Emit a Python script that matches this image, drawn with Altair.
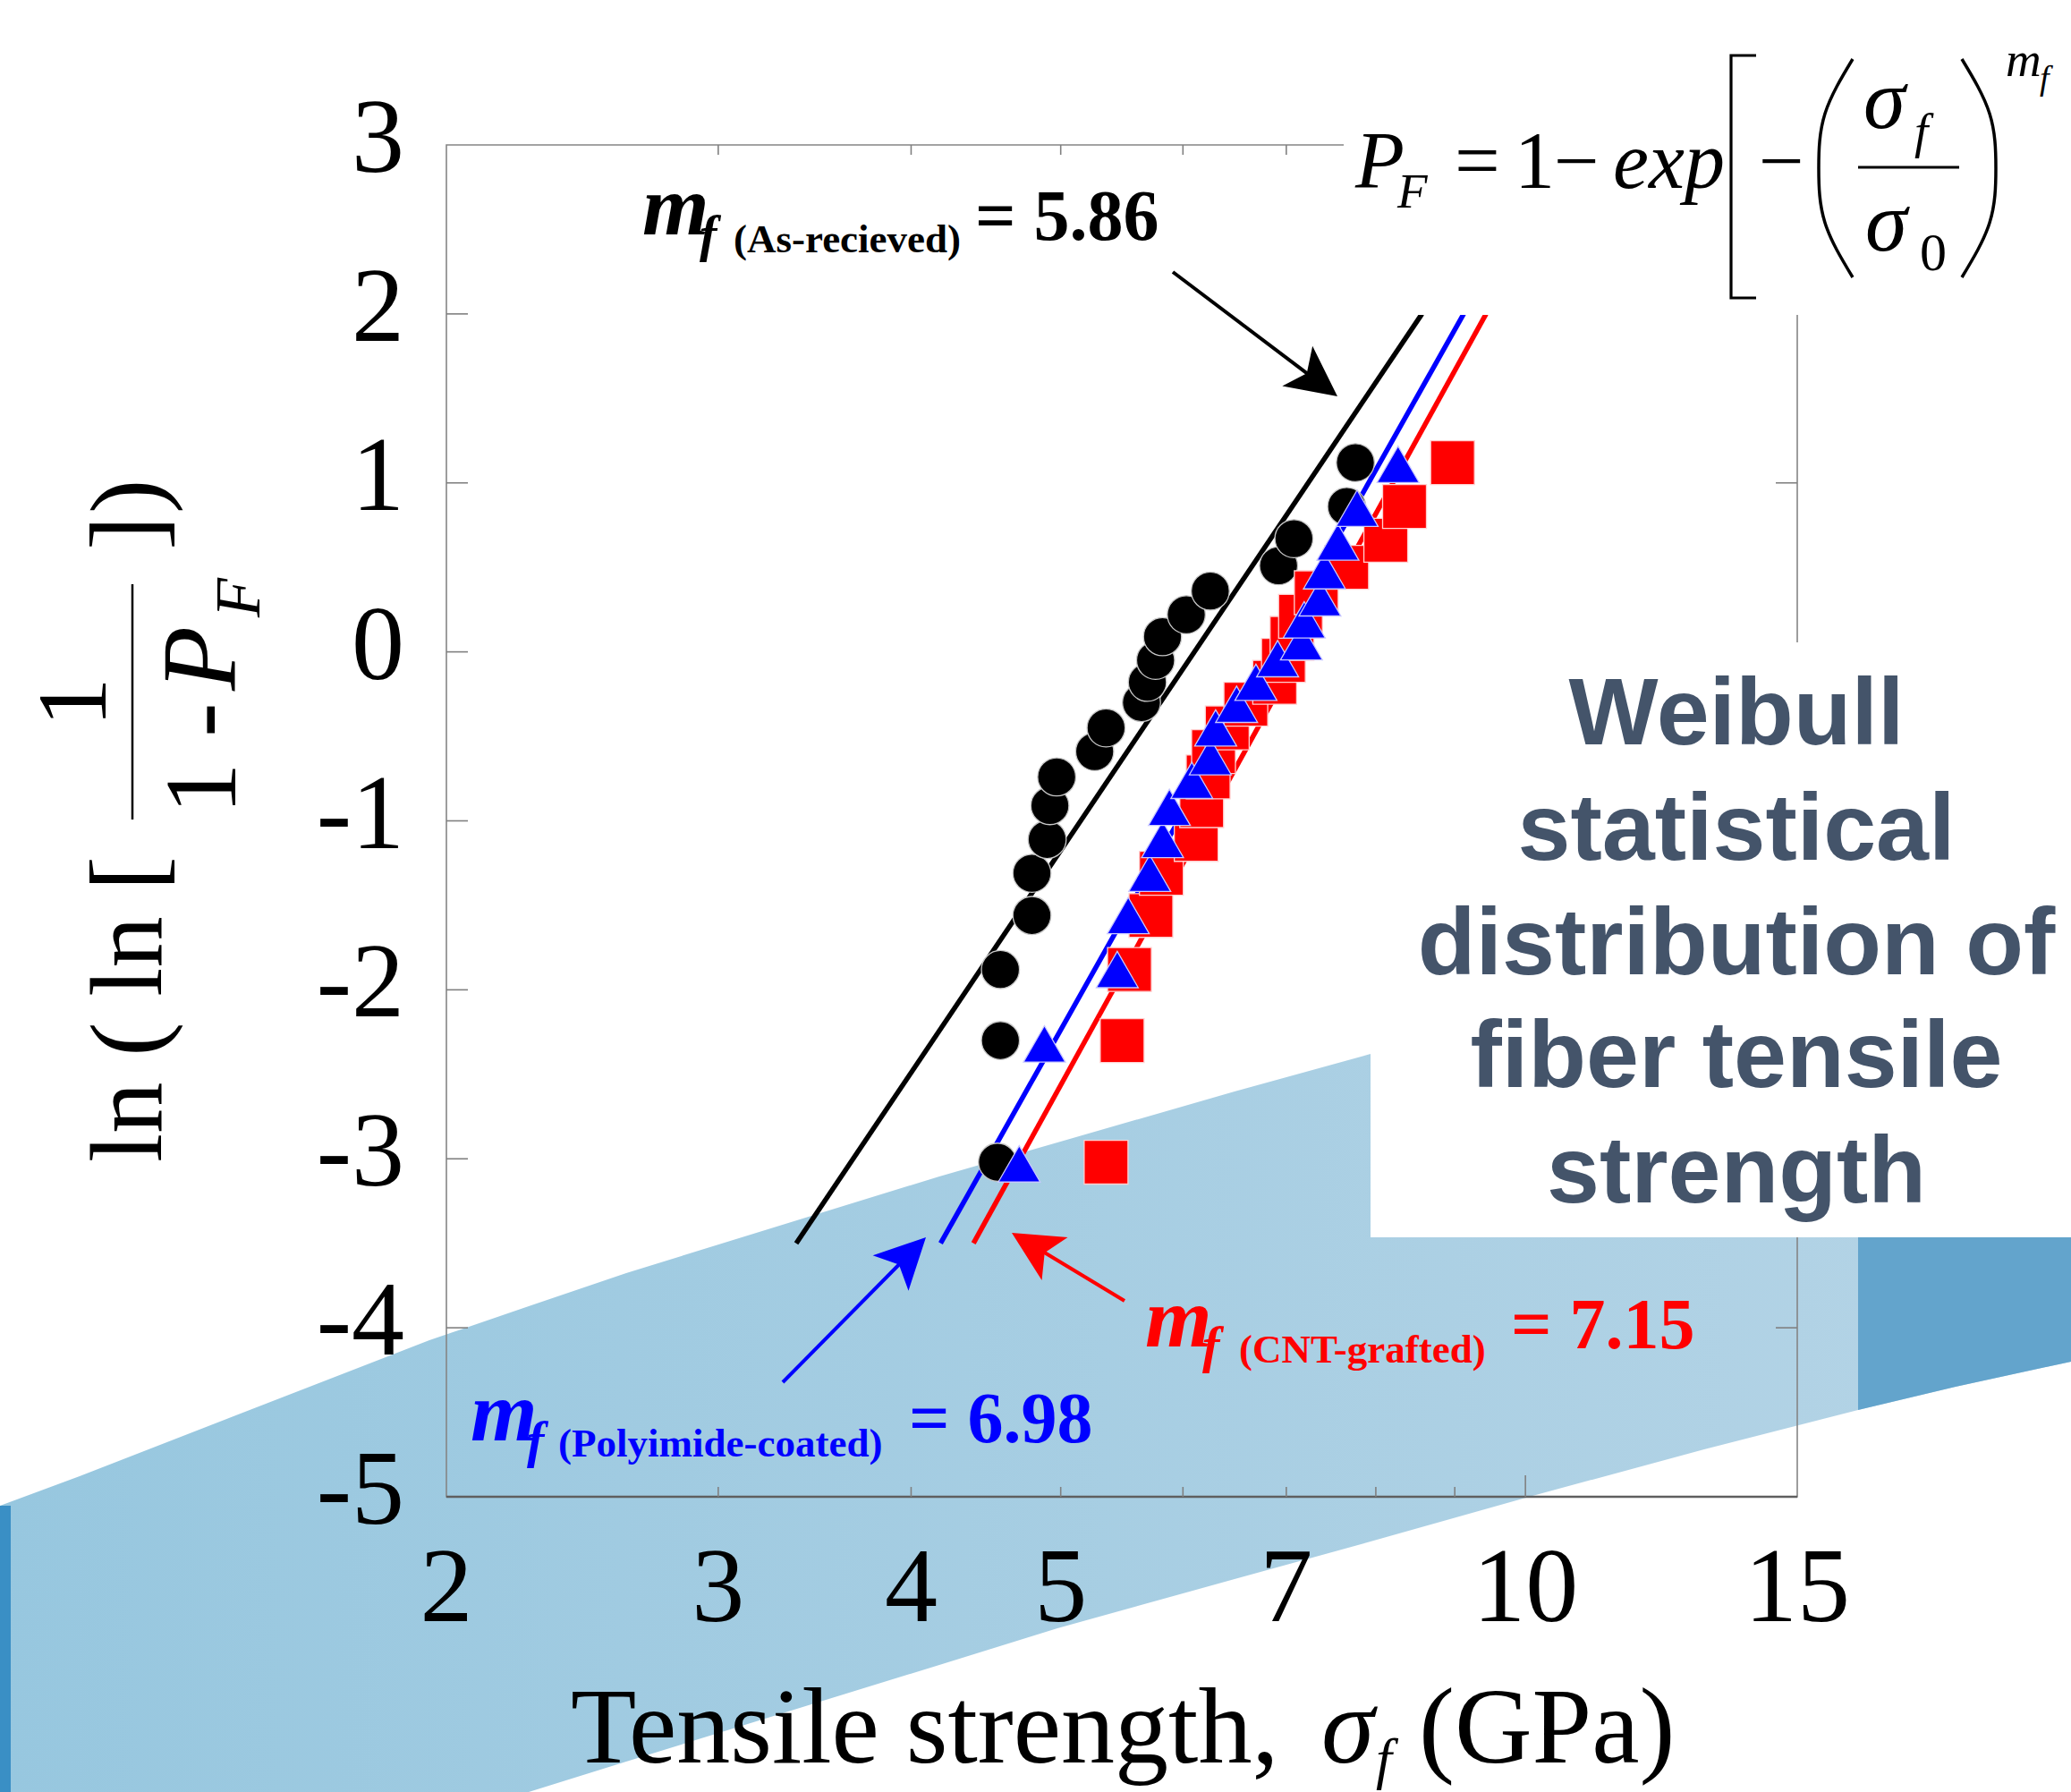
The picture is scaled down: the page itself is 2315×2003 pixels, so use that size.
import math
import altair as alt
import pandas as pd

# ------------------------------------------------------------------ data
circle_sigma = [4.55, 4.57, 4.57, 4.79, 4.79, 4.90, 4.92, 4.97, 5.26, 5.35,
                5.64, 5.69, 5.76, 5.82, 6.03, 6.25, 6.92, 7.08, 7.66, 7.76]
circle_lnln = [-3.02, -2.30, -1.88, -1.56, -1.31, -1.11, -0.91, -0.74, -0.59, -0.45,
               -0.30, -0.18, -0.05, 0.09, 0.22, 0.36, 0.51, 0.67, 0.86, 1.12]

triangle_sigma = [4.70, 4.88, 5.44, 5.53, 5.71, 5.82, 5.88, 6.08, 6.25, 6.30,
                  6.50, 6.69, 6.91, 7.16, 7.19, 7.36, 7.41, 7.56, 7.78, 8.27]
triangle_lnln = [-3.03, -2.32, -1.88, -1.56, -1.31, -1.11, -0.92, -0.76, -0.62, -0.45,
                 -0.31, -0.18, -0.04, 0.06, 0.19, 0.32, 0.48, 0.65, 0.85, 1.11]

square_sigma = [5.35, 5.48, 5.54, 5.72, 5.81, 6.12, 6.17, 6.23, 6.28, 6.41,
                6.59, 6.88, 6.97, 7.06, 7.15, 7.32, 7.66, 8.12, 8.35, 8.97]
square_lnln = [-3.02, -2.30, -1.88, -1.56, -1.31, -1.11, -0.91, -0.74, -0.59, -0.45,
               -0.31, -0.18, -0.05, 0.08, 0.21, 0.35, 0.50, 0.66, 0.86, 1.12]

fit_series = ["As-recieved", "Polyimide-coated", "CNT-grafted"]
fit_colors = ["#000000", "#0000ff", "#ff0000"]
fit_sigma_start = [3.37, 4.18, 4.39]
fit_sigma_end = [8.57, 9.12, 9.43]
fit_lnln_start = [-3.5, -3.5, -3.5]
fit_lnln_end = [2.0, 2.0, 2.0]

x_tick_labels = [2, 3, 4, 5, 7, 10, 15]
x_minor_ticks = [3, 4, 5, 6, 7, 8, 9]
x_major_ticks = [10]
y_tick_values = [3, 2, 1, 0, -1, -2, -3, -4, -5]
y_inner_ticks = [2, 1, 0, -1, -2, -3, -4]

# background decoration (page pixel coordinates)
band_px = [0, 89, 480, 591, 700, 1050, 1182, 1380, 1532, 1713, 1905, 2077, 2186, 2315]
band_top = [1683, 1650, 1498, 1460, 1423, 1315, 1277, 1220, 1178, 1130, 1080, 1035, 1005, 970]
band_bot = [2003, 2003, 2003, 2003, 1969, 1861, 1820, 1765, 1723, 1672, 1620, 1576, 1550, 1522]
dark_px = [2077, 2186, 2315]
dark_top = [1383, 1383, 1383]
dark_bot = [1576, 1550, 1522]

# ------------------------------------------------------------------ layout
W, H = 1510, 1511          # plot area
L, T = 499, 162            # plot origin on the page
PAGE_W, PAGE_H = 2315, 2003
SERIF = "Liberation Serif"
SANS = "Liberation Sans"


def X(p):
    return p - L


def Y(p):
    return p - T


XS = alt.Scale(type="log", domain=[2, 15], nice=False)
YS = alt.Scale(domain=[-5, 3], nice=False, zero=False)
PXS = alt.Scale(domain=[L, L + W], nice=False, zero=False)
PYS = alt.Scale(domain=[T, T + H], nice=False, zero=False, reverse=True)
ONE = pd.DataFrame({"k": [0]})
layers = []

# ---------------- background band
band_df = pd.DataFrame({"px": band_px, "top": band_top, "bot": band_bot})
layers.append(
    alt.Chart(band_df).mark_area(
        color=alt.LinearGradient(
            gradient="linear",
            stops=[alt.GradientStop(color="#97c7df", offset=0),
                   alt.GradientStop(color="#b5d4e6", offset=1)],
            x1=0, x2=1, y1=0, y2=0),
        opacity=1,
    ).encode(
        x=alt.X("px:Q", scale=PXS, axis=None),
        y=alt.Y("top:Q", scale=PYS, axis=None),
        y2="bot:Q",
    )
)
dark_df = pd.DataFrame({"px": dark_px, "top": dark_top, "bot": dark_bot})
layers.append(
    alt.Chart(dark_df).mark_area(color="#63a4cc", opacity=1).encode(
        x=alt.X("px:Q", scale=PXS, axis=None),
        y=alt.Y("top:Q", scale=PYS, axis=None),
        y2="bot:Q",
    )
)
layers.append(
    alt.Chart(ONE).mark_rect(color="#3a8fc5").encode(
        x=alt.value(X(0)), x2=alt.value(X(12)),
        y=alt.value(Y(1683)), y2=alt.value(Y(PAGE_H)))
)

# ---------------- frame
layers.append(
    alt.Chart(ONE).mark_rect(fillOpacity=0, stroke="#858585", strokeWidth=1.6).encode(
        x=alt.value(0), x2=alt.value(W), y=alt.value(0), y2=alt.value(H))
)
layers.append(
    alt.Chart(ONE).mark_rule(color="#5f5f5f", strokeWidth=2.6).encode(
        x=alt.value(0), x2=alt.value(W), y=alt.value(H))
)

# ---------------- ticks (inward)
TICK_C = "#808080"
xmin_df = pd.DataFrame({"v": x_minor_ticks})
xmaj_df = pd.DataFrame({"v": x_major_ticks})
for df, ln in ((xmin_df, 11), (xmaj_df, 24)):
    layers.append(alt.Chart(df).mark_rule(color=TICK_C, strokeWidth=1.6).encode(
        x=alt.X("v:Q", scale=XS, axis=None), y=alt.value(H), y2=alt.value(H - ln)))
    layers.append(alt.Chart(df).mark_rule(color=TICK_C, strokeWidth=1.6).encode(
        x=alt.X("v:Q", scale=XS, axis=None), y=alt.value(0), y2=alt.value(ln)))
yt_df = pd.DataFrame({"v": y_inner_ticks})
layers.append(alt.Chart(yt_df).mark_rule(color=TICK_C, strokeWidth=1.6).encode(
    y=alt.Y("v:Q", scale=YS, axis=None), x=alt.value(0), x2=alt.value(24)))
layers.append(alt.Chart(yt_df).mark_rule(color=TICK_C, strokeWidth=1.6).encode(
    y=alt.Y("v:Q", scale=YS, axis=None), x=alt.value(W - 24), x2=alt.value(W)))

# ---------------- tick labels
xl_df = pd.DataFrame({"v": x_tick_labels, "lab": [str(v) for v in x_tick_labels]})
layers.append(alt.Chart(xl_df).mark_text(
    font=SERIF, fontSize=118, align="center", baseline="alphabetic", color="black").encode(
    x=alt.X("v:Q", scale=XS, axis=None), y=alt.value(Y(1812)), text="lab:N"))
yl_df = pd.DataFrame({"v": y_tick_values, "lab": [str(v) for v in y_tick_values]})
layers.append(alt.Chart(yl_df).mark_text(
    font=SERIF, fontSize=118, align="right", baseline="alphabetic", dy=30, color="black").encode(
    y=alt.Y("v:Q", scale=YS, axis=None), x=alt.value(X(452)), text="lab:N"))

# ---------------- fitted Weibull lines
for i, name in enumerate(fit_series):
    df = pd.DataFrame({"sigma": [fit_sigma_start[i], fit_sigma_end[i]],
                       "lnln": [fit_lnln_start[i], fit_lnln_end[i]]})
    layers.append(alt.Chart(df).mark_line(color=fit_colors[i], strokeWidth=5.5).encode(
        x=alt.X("sigma:Q", scale=XS, axis=None),
        y=alt.Y("lnln:Q", scale=YS, axis=None)))

# ---------------- data points
circ_df = pd.DataFrame({"sigma": circle_sigma, "lnln": circle_lnln})
sq_df = pd.DataFrame({"sigma": square_sigma, "lnln": square_lnln})
tri_df = pd.DataFrame({"sigma": triangle_sigma, "lnln": triangle_lnln})
for df, shape, size, fill, stroke in (
        (circ_df, "circle", 1810, "#000000", "#c8c8c8"),
        (sq_df, "square", 2400, "#ff0000", "#ffd0d0"),
        (tri_df, "triangle-up", 2200, "#0000ff", "#c8c8ff")):
    layers.append(alt.Chart(df).mark_point(
        shape=shape, size=size, filled=True, fill=fill, stroke=stroke,
        strokeWidth=1.3, opacity=1, fillOpacity=1, strokeOpacity=1).encode(
        x=alt.X("sigma:Q", scale=XS, axis=None),
        y=alt.Y("lnln:Q", scale=YS, axis=None)))

# ---------------- white boxes (formula and title panel)
layers.append(alt.Chart(ONE).mark_rect(color="white").encode(
    x=alt.value(X(1502)), x2=alt.value(X(PAGE_W)), y=alt.value(Y(0)), y2=alt.value(Y(352))))
layers.append(alt.Chart(ONE).mark_rect(color="white").encode(
    x=alt.value(X(1532)), x2=alt.value(X(PAGE_W)), y=alt.value(Y(718)), y2=alt.value(Y(1383))))


def txt(s, x, y, size, color="black", font=SERIF, style="normal", weight="normal",
        align="left", angle=0):
    return alt.Chart(ONE).mark_text(
        text=s, font=font, fontSize=size, fontStyle=style, fontWeight=weight,
        color=color, align=align, baseline="alphabetic", angle=angle).encode(
        x=alt.value(X(x)), y=alt.value(Y(y)))


def page_line(xs, ys, width, color="black", interp="linear"):
    df = pd.DataFrame({"px": xs, "py": ys, "i": list(range(len(xs)))})
    return alt.Chart(df).mark_line(color=color, strokeWidth=width, interpolate=interp).encode(
        x=alt.X("px:Q", scale=PXS, axis=None),
        y=alt.Y("py:Q", scale=PYS, axis=None),
        order="i:Q")


HEAD = "M0,-1 L0.85,0.7 L0,0.3 L-0.85,0.7 Z"


def arrow(x0, y0, x1, y1, color):
    dx, dy = x1 - x0, y1 - y0
    n = math.hypot(dx, dy)
    ux, uy = dx / n, dy / n
    r = 33
    cx, cy = x1 - r * ux, y1 - r * uy
    ang = (math.degrees(math.atan2(dy, dx)) + 90) % 360
    line = alt.Chart(ONE).mark_rule(color=color, strokeWidth=4).encode(
        x=alt.value(X(x0)), y=alt.value(Y(y0)), x2=alt.value(X(cx)), y2=alt.value(Y(cy)))
    head = alt.Chart(ONE).mark_point(
        shape=HEAD, size=(2 * r) ** 2, filled=True, fill=color, strokeWidth=0,
        opacity=1, angle=ang).encode(x=alt.value(X(cx)), y=alt.value(Y(cy)))
    return [line, head]


# ---------------- slope annotations
layers += [
    txt("m", 718, 262, 96, style="italic", weight="bold"),
    txt("f", 782, 281, 58, style="italic", weight="bold"),
    txt("(As-recieved)", 820, 282, 45, weight="bold"),
    txt("= 5.86", 1090, 268, 80, weight="bold"),
]
layers += arrow(1311, 304, 1495, 443, "#000000")

layers += [
    txt("m", 1280, 1505, 96, color="#ff0000", style="italic", weight="bold"),
    txt("f", 1344, 1523, 58, color="#ff0000", style="italic", weight="bold"),
    txt("(CNT-grafted)", 1385, 1523, 45, color="#ff0000", weight="bold"),
    txt("= 7.15", 1689, 1507, 80, color="#ff0000", weight="bold"),
]
layers += arrow(1257, 1454, 1131, 1378, "#ff0000")

layers += [
    txt("m", 526, 1610, 96, color="#0000ff", style="italic", weight="bold"),
    txt("f", 589, 1629, 58, color="#0000ff", style="italic", weight="bold"),
    txt("(Polyimide-coated)", 624, 1628, 45, color="#0000ff", weight="bold"),
    txt("= 6.98", 1016, 1612, 80, color="#0000ff", weight="bold"),
]
layers += arrow(875, 1545, 1035, 1383, "#0000ff")

# ---------------- Weibull formula
layers += [
    txt("P", 1515, 210, 90, style="italic"),
    txt("F", 1562, 232, 55, style="italic"),
    txt("=", 1626, 210, 90),
    txt("1", 1693, 210, 90),
    txt("\u2212", 1737, 210, 90),
    txt("exp", 1803, 210, 90, style="italic"),
    page_line([1963, 1935, 1935, 1963], [62, 62, 333, 333], 3.2),
    txt("\u2212", 1966, 210, 90),
    page_line([2071, 2040, 2033, 2040, 2071], [66, 127, 188, 249, 310], 3.5, interp="natural"),
    txt("\u03c3", 2083, 143, 95, style="italic"),
    txt("f", 2140, 165, 55, style="italic"),
    alt.Chart(ONE).mark_rule(color="black", strokeWidth=3).encode(
        x=alt.value(X(2077)), x2=alt.value(X(2190)), y=alt.value(Y(187))),
    txt("\u03c3", 2085, 280, 95, style="italic"),
    txt("0", 2146, 302, 60),
    page_line([2193, 2224, 2231, 2224, 2193], [66, 127, 188, 249, 310], 3.5, interp="natural"),
    txt("m", 2242, 85, 55, style="italic"),
    txt("f", 2280, 100, 38, style="italic"),
]

# ---------------- title panel text
for s, yb in zip(["Weibull", "statistical", "distribution of", "fiber tensile", "strength"],
                 [832, 961, 1089, 1215, 1344]):
    layers.append(txt(s, 1941, yb, 106, color="#44546a", font=SANS, weight="bold",
                      align="center"))

# ---------------- x axis title
layers += [
    txt("Tensile strength,", 638, 1970, 120),
    txt("\u03c3", 1477, 1970, 120, style="italic"),
    txt("f", 1538, 1987, 64, style="italic"),
    txt("(GPa)", 1586, 1970, 120),
]

# ---------------- y axis title (rotated)
layers += [
    txt("ln ( ln [", 180, 1299, 115, angle=270),
    txt("1", 118, 785, 110, align="center", angle=270),
    alt.Chart(ONE).mark_rule(color="black", strokeWidth=2.5).encode(
        x=alt.value(X(148)), y=alt.value(Y(653)), y2=alt.value(Y(916))),
    txt("1 -", 263, 910, 115, angle=270),
    txt("P", 263, 772, 118, style="italic", angle=270),
    txt("F", 290, 690, 72, style="italic", angle=270),
    txt("]", 180, 615, 115, angle=270),
    txt(")", 180, 574, 115, angle=270),
]

chart = alt.layer(*layers).resolve_scale(
    x="independent", y="independent"
).properties(
    width=W, height=H,
    padding={"left": L, "top": T, "right": PAGE_W - L - W, "bottom": PAGE_H - T - H},
    autosize=alt.AutoSizeParams(type="none"),
    background="white",
).configure_view(stroke=None)

chart.save("out.html", embed_options={"renderer": "svg", "actions": False})
